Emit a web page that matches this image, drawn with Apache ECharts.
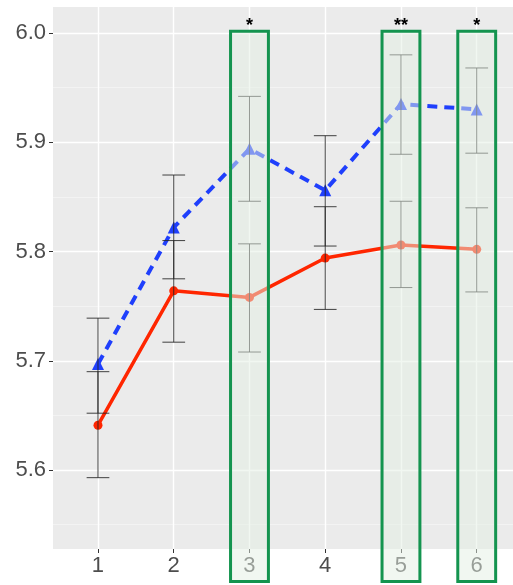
<!DOCTYPE html>
<html>
<head>
<meta charset="utf-8">
<script src="https://cdn.jsdelivr.net/npm/echarts@6/dist/echarts.min.js"></script>
<style>
  html, body { margin: 0; padding: 0; background: #fff; }
  #chart { width: 513px; height: 585px; }
</style>
</head>
<body>
<div id="chart"></div>
<script>
// time points and significance marks
const categories = [1, 2, 3, 4, 5, 6];
const sigMarks = ["", "", "*", "", "**", "*"];

// red series (solid, circles)
const redMean = [5.641, 5.764, 5.758, 5.794, 5.806, 5.802];
const redLow = [5.593, 5.717, 5.708, 5.747, 5.767, 5.763];
const redHigh = [5.690, 5.810, 5.807, 5.841, 5.846, 5.840];

// blue series (dashed, triangles)
const blueMean = [5.697, 5.822, 5.894, 5.856, 5.935, 5.930];
const blueLow = [5.652, 5.775, 5.846, 5.805, 5.889, 5.890];
const blueHigh = [5.739, 5.870, 5.942, 5.906, 5.980, 5.968];

// tick labels
const yTicks = [5.6, 5.7, 5.8, 5.9, 6.0];
const yMinor = [5.55, 5.65, 5.75, 5.85, 5.95];

const chart = echarts.init(document.getElementById("chart"), null, { renderer: "canvas" });
const font = "'Liberation Sans', Arial, sans-serif";

const errData = [];
categories.forEach((c, i) => {
  errData.push([c, redLow[i], redHigh[i]]);
  errData.push([c, blueLow[i], blueHigh[i]]);
});

function renderErr(params, api) {
  const x = api.value(0);
  const lo = api.coord([x, api.value(1)]);
  const hi = api.coord([x, api.value(2)]);
  const half = api.size([0.15, 0])[0];
  const style = { stroke: "#222222", lineWidth: 1, opacity: 0.85 };
  return {
    type: "group",
    children: [
      { type: "line", shape: { x1: lo[0], y1: lo[1], x2: hi[0], y2: hi[1] }, style },
      { type: "line", shape: { x1: lo[0] - half, y1: lo[1], x2: lo[0] + half, y2: lo[1] }, style },
      { type: "line", shape: { x1: hi[0] - half, y1: hi[1], x2: hi[0] + half, y2: hi[1] }, style }
    ]
  };
}

function renderBox(params, api) {
  const idx = params.dataIndex;
  const mark = sigMarks[idx];
  if (!mark) return null;
  const x = api.value(0);
  const tl = api.coord([x - 0.25, 6.0015]);
  const br = api.coord([x + 0.25, 5.498]);
  const txt = api.coord([x, 6.0065]);
  return {
    type: "group",
    children: [
      {
        type: "rect",
        shape: { x: tl[0], y: tl[1], width: br[0] - tl[0], height: br[1] - tl[1] },
        style: { fill: "rgba(228,240,228,0.5)", stroke: "#14944f", lineWidth: 3 }
      },
      {
        type: "text",
        x: txt[0],
        y: txt[1],
        style: {
          text: mark,
          fill: "#000",
          font: "bold 18px " + font,
          align: "center",
          verticalAlign: "middle"
        }
      }
    ]
  };
}

chart.setOption({
  animation: false,
  backgroundColor: "#ffffff",
  grid: {
    left: 53, right: 0, top: 7, bottom: 36,
    show: true, backgroundColor: "#ebebeb", borderWidth: 0
  },
  xAxis: {
    type: "value",
    min: 0.406,
    max: 6.479,
    axisLine: { show: false },
    axisTick: { show: true, customValues: categories, length: 4, lineStyle: { color: "#333" } },
    axisLabel: {
      customValues: categories,
      color: "#4d4d4d",
      fontSize: 22,
      fontFamily: font,
      margin: 6
    },
    splitLine: { show: true, lineStyle: { color: "#ffffff", width: 1.4 } }
  },
  yAxis: [
    {
      type: "value",
      min: 5.5277,
      max: 6.0238,
      axisLine: { show: false },
      axisTick: { show: true, customValues: yTicks, length: 4, lineStyle: { color: "#333" } },
      axisLabel: {
        customValues: yTicks,
        color: "#4d4d4d",
        fontSize: 22,
        fontFamily: font,
        margin: 7,
        formatter: (v) => v.toFixed(1)
      },
      splitLine: { show: true, lineStyle: { color: "#ffffff", width: 1.4 } }
    },
    {
      type: "value",
      min: 5.5277,
      max: 6.0238,
      axisLine: { show: false },
      axisTick: { show: false, customValues: yMinor },
      axisLabel: { show: false, customValues: yMinor },
      splitLine: { show: true, lineStyle: { color: "#f7f7f7", width: 0.7 } }
    }
  ],
  series: [
    {
      name: "blue",
      type: "line",
      data: categories.map((c, i) => [c, blueMean[i]]),
      symbol: "triangle",
      symbolSize: 12,
      itemStyle: { color: "#1f3ffc" },
      lineStyle: { color: "#1f3ffc", width: 4, type: [10, 7] },
      z: 3
    },
    {
      name: "red",
      type: "line",
      data: categories.map((c, i) => [c, redMean[i]]),
      symbol: "circle",
      symbolSize: 9,
      itemStyle: { color: "#ff2600" },
      lineStyle: { color: "#ff2600", width: 3.5 },
      z: 4
    },
    {
      name: "err",
      type: "custom",
      renderItem: renderErr,
      data: errData,
      z: 5
    },
    {
      name: "boxes",
      type: "custom",
      renderItem: renderBox,
      data: categories.map((c) => [c]),
      clip: false,
      z: 10
    }
  ]
});
</script>
</body>
</html>
